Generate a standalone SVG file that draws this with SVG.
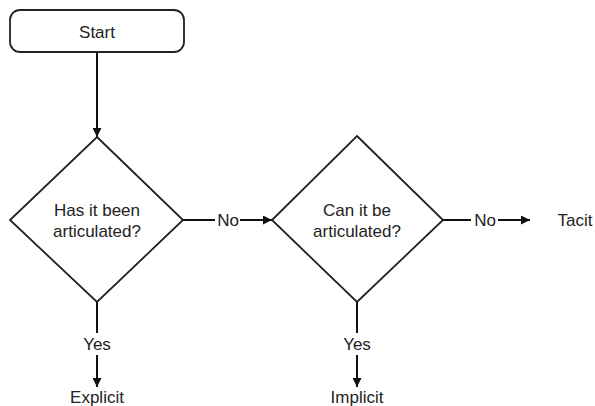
<svg xmlns="http://www.w3.org/2000/svg" width="595" height="406" viewBox="0 0 595 406">
  <style>
    .shape { fill: #ffffff; stroke: #222222; stroke-width: 1.8; }
    .edge { fill: none; stroke: #111111; stroke-width: 2; }
    text { font-family: "Liberation Sans", Arial, sans-serif; font-size: 17px; fill: #222222; text-anchor: middle; }
  </style>
  <defs>
    <marker id="arrow" viewBox="0 0 10 10" refX="10" refY="5" markerWidth="4.5" markerHeight="4.5" orient="auto" markerUnits="strokeWidth">
      <path d="M0,0 L10,5 L0,10 Z" fill="#111111"/>
    </marker>
  </defs>
  <rect width="595" height="406" fill="#ffffff"/>

  <g id="start">
    <rect class="shape" x="10" y="10" width="174" height="42" rx="10" ry="10"/>
    <text x="97" y="38">Start</text>
  </g>

  <g id="articulated">
    <polygon class="shape" points="97,137 183,220 97,302 10,220"/>
    <text x="97" y="216">Has it been</text>
    <text x="97" y="237">articulated?</text>
  </g>

  <g id="can-articulate">
    <polygon class="shape" points="357,136 443,220 357,302 272,220"/>
    <text x="357" y="216">Can it be</text>
    <text x="357" y="237">articulated?</text>
  </g>

  <g id="explicit">
    <text x="97" y="403">Explicit</text>
  </g>

  <g id="implicit">
    <text x="357" y="403">Implicit</text>
  </g>

  <g id="tacit">
    <text x="575" y="226">Tacit</text>
  </g>

  <g id="connectors">
    <line class="edge" x1="97" y1="52" x2="97" y2="137" marker-end="url(#arrow)"/>

    <line class="edge" x1="183" y1="220" x2="215" y2="220"/>
    <text x="228" y="226">No</text>
    <line class="edge" x1="240" y1="220" x2="272" y2="220" marker-end="url(#arrow)"/>

    <line class="edge" x1="443" y1="220" x2="471" y2="220"/>
    <text x="485" y="226">No</text>
    <line class="edge" x1="498" y1="220" x2="530" y2="220" marker-end="url(#arrow)"/>

    <line class="edge" x1="97" y1="302" x2="97" y2="333"/>
    <text x="97" y="350">Yes</text>
    <line class="edge" x1="97" y1="355" x2="97" y2="387" marker-end="url(#arrow)"/>

    <line class="edge" x1="357" y1="302" x2="357" y2="333"/>
    <text x="357" y="350">Yes</text>
    <line class="edge" x1="357" y1="355" x2="357" y2="387" marker-end="url(#arrow)"/>
  </g>
</svg>
